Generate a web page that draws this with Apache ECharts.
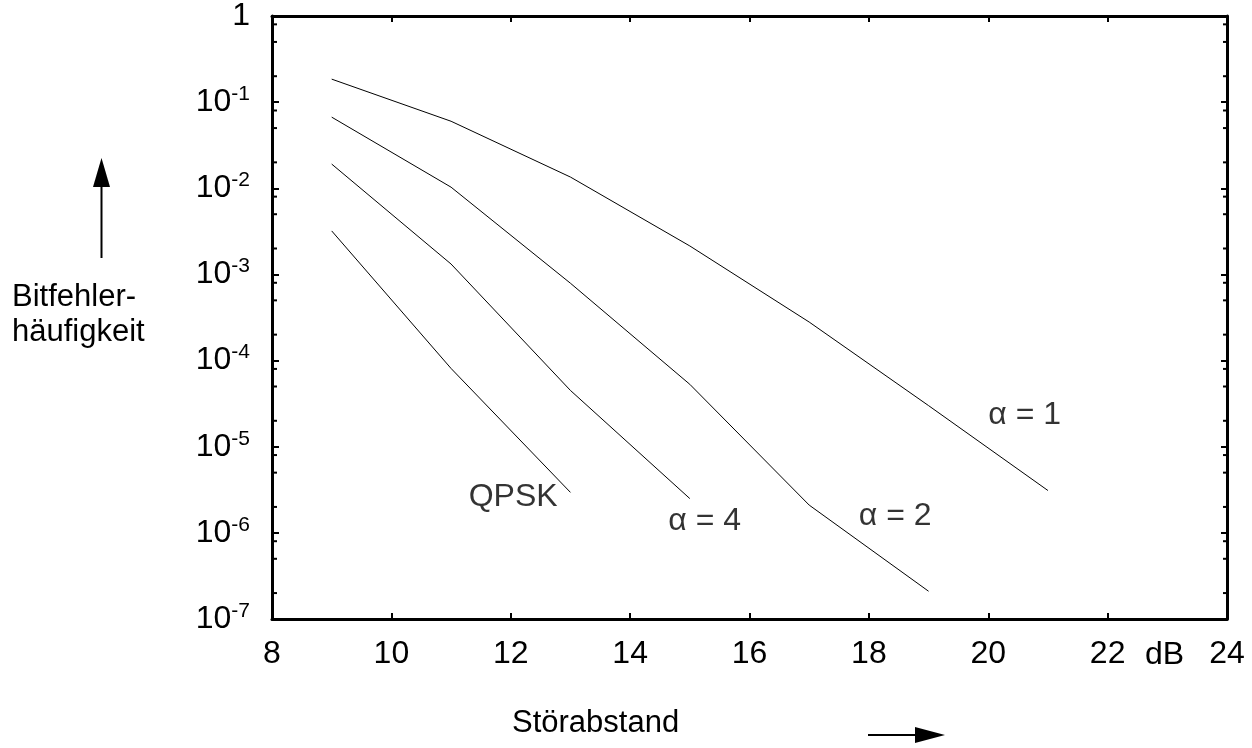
<!DOCTYPE html>
<html>
<head>
<meta charset="utf-8">
<script src="https://cdn.jsdelivr.net/npm/echarts@6/dist/echarts.min.js"></script>
<style>
html,body{margin:0;padding:0;background:#fff;}
#c{width:1252px;height:748px;}
</style>
</head>
<body>
<div id="c"></div>
<script>
// ---- data ----
var snr = [9, 11, 13, 15, 17, 19, 21];
var ber_a1 = [0.185, 0.060, 0.0135, 0.00214, 2.8e-4, 3.0e-5, 3.1e-6];
var ber_a2 = [0.067, 0.0103, 7.9e-4, 5.3e-5, 2.1e-6, 2.1e-7];
var ber_a4 = [0.0191, 1.32e-3, 4.5e-5, 2.5e-6];
var ber_qpsk = [3.2e-3, 8.1e-5, 2.95e-6];
var xTicks = [8, 10, 12, 14, 16, 18, 20, 22, 24];
var yDecades = [1e-7, 1e-6, 1e-5, 1e-4, 1e-3, 1e-2, 1e-1];
var minorMult = [2, 5, 8];
var curveLabels = [
  {text: 'α = 1', x: 20.61, y: 2.32e-5},
  {text: 'α = 2', x: 18.44, y: 1.56e-6},
  {text: 'α = 4', x: 15.25, y: 1.36e-6},
  {text: 'QPSK', x: 12.04, y: 2.59e-6}
];

function pairs(xs, ys) { return ys.map(function (v, i) { return [xs[i], v]; }); }

var minorTicks = [];
yDecades.forEach(function (d) { minorMult.forEach(function (m) { minorTicks.push([8, d * m]); }); });

var FONT = 'Liberation Sans, Arial, sans-serif';
var FS = 32;

var chart = echarts.init(document.getElementById('c'), null, {renderer: 'canvas'});

function lineSeries(data) {
  return {
    type: 'line', data: data, symbol: 'none', silent: true,
    lineStyle: {color: '#000', width: 1}, animation: false
  };
}

var axisLineStyle = {color: '#000', width: 3};

var option = {
  backgroundColor: '#fff',
  animation: false,
  grid: {left: 272, top: 16, width: 955, height: 603, containLabel: false},
  xAxis: [{
    type: 'value', min: 8, max: 24, interval: 2, position: 'bottom',
    axisLine: {show: true, lineStyle: axisLineStyle, onZero: false},
    axisTick: {show: true, inside: true, length: 6, lineStyle: {color: '#000', width: 2}},
    splitLine: {show: false},
    axisLabel: {
      show: true, fontSize: FS, fontFamily: FONT, color: '#000', margin: 19,
      showMinLabel: true, showMaxLabel: true,
      formatter: function (v) { return String(v); }
    }
  }, {
    type: 'value', min: 8, max: 24, interval: 2, position: 'top',
    axisLine: {show: true, lineStyle: axisLineStyle, onZero: false},
    axisTick: {show: true, inside: true, length: 6, lineStyle: {color: '#000', width: 2}},
    splitLine: {show: false}, axisLabel: {show: false}
  }],
  yAxis: [{
    type: 'log', logBase: 10, min: 1e-7, max: 1, interval: 1, position: 'left',
    axisLine: {show: true, lineStyle: axisLineStyle, onZero: false},
    axisTick: {show: true, inside: true, length: 7, lineStyle: {color: '#000', width: 2}},
    splitLine: {show: false},
    axisLabel: {
      show: true, margin: 22, color: '#000', fontSize: FS, fontFamily: FONT,
      formatter: function (v) {
        var e = Math.round(Math.log(v) / Math.LN10);
        if (e === 0) return '{b|1}';
        return '{b|10}{s|' + e + '}';
      },
      rich: {
        b: {fontSize: FS, fontFamily: FONT, color: '#000'},
        s: {fontSize: 21, fontFamily: FONT, color: '#000', padding: [0, 0, 16, 0]}
      }
    }
  }, {
    type: 'log', logBase: 10, min: 1e-7, max: 1, interval: 1, position: 'right',
    axisLine: {show: true, lineStyle: axisLineStyle, onZero: false},
    axisTick: {show: true, inside: true, length: 6, lineStyle: {color: '#000', width: 2}},
    splitLine: {show: false}, axisLabel: {show: false}
  }],
  series: [
    lineSeries(pairs(snr, ber_a1)),
    lineSeries(pairs(snr, ber_a2)),
    lineSeries(pairs(snr, ber_a4)),
    lineSeries(pairs(snr, ber_qpsk)),
    {
      type: 'custom', silent: true, clip: false, data: minorTicks,
      renderItem: function (params, api) {
        var v = api.value(1);
        var pl = api.coord([8, v]);
        var pr = api.coord([24, v]);
        return {
          type: 'group',
          children: [
            {type: 'line', shape: {x1: pl[0], y1: pl[1], x2: pl[0] + 5, y2: pl[1]}, style: {stroke: '#000', lineWidth: 2}},
            {type: 'line', shape: {x1: pr[0] - 4, y1: pr[1], x2: pr[0], y2: pr[1]}, style: {stroke: '#000', lineWidth: 2}}
          ]
        };
      }
    },
    {
      type: 'scatter', silent: true, symbolSize: 0,
      data: curveLabels.map(function (l) { return {value: [l.x, l.y], name: l.text}; }),
      label: {
        show: true, position: 'inside', color: '#000', fontSize: FS, fontFamily: FONT,
        formatter: function (p) { return p.name; }
      }
    }
  ],
  graphic: [
    {type: 'text', left: 1145, top: 639, style: {text: 'dB', fontSize: FS, fontFamily: FONT, fill: '#000'}},
    {type: 'text', left: 12, top: 280, style: {text: 'Bitfehler-\nhäufigkeit', fontSize: 31, fontFamily: FONT, fill: '#000', lineHeight: 35}},
    {type: 'line', shape: {x1: 101.5, y1: 258, x2: 101.5, y2: 185}, style: {stroke: '#000', lineWidth: 2}},
    {type: 'polygon', shape: {points: [[101.5, 158], [93, 187], [110, 187]]}, style: {fill: '#000'}},
    {type: 'text', left: 512, top: 708, style: {text: 'Störabstand', fontSize: 31, fontFamily: FONT, fill: '#000'}},
    {type: 'line', shape: {x1: 868, y1: 735, x2: 918, y2: 735}, style: {stroke: '#000', lineWidth: 2}},
    {type: 'polygon', shape: {points: [[945, 735], [915, 727], [915, 743]]}, style: {fill: '#000'}}
  ]
};
chart.setOption(option);
</script>
</body>
</html>
